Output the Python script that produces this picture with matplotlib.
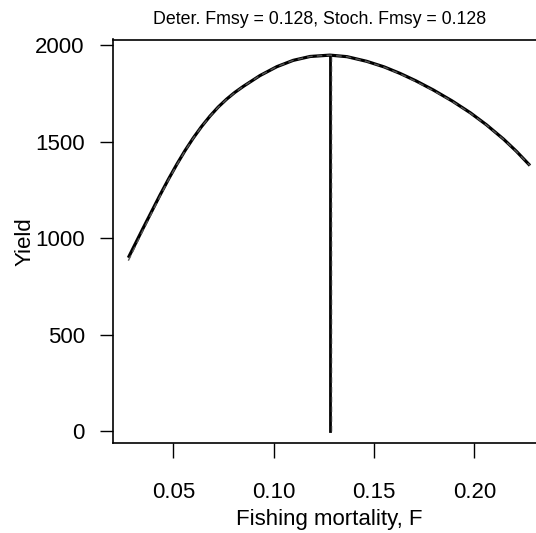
import matplotlib
matplotlib.use("Agg")
import matplotlib.pyplot as plt

plt.rcParams['font.family'] = ['Liberation Sans', 'DejaVu Sans']

# Deterministic equilibrium yield curve
F_vals = [0.0275, 0.035, 0.0433, 0.0475, 0.0516, 0.0558, 0.0599, 0.064,
          0.0682, 0.0723, 0.0765, 0.0806, 0.0848, 0.0931, 0.1015, 0.1097, 0.1181,
          0.128, 0.1365, 0.1463, 0.155, 0.163, 0.171, 0.1796, 0.189,
          0.198, 0.206, 0.2145, 0.221, 0.2277]
det_yield = [900, 1056, 1225, 1307, 1383, 1456, 1521, 1580,
             1634, 1681, 1722, 1757, 1788, 1844, 1890, 1923, 1943,
             1950, 1942, 1918, 1889, 1855, 1816, 1769, 1712,
             1651, 1589, 1515, 1451, 1378]
# Stochastic yield curve (nearly identical)
stoch_yield = [885, 1046, 1219, 1303, 1380, 1454, 1520, 1579,
               1633, 1680, 1721, 1756, 1788, 1844, 1890, 1923, 1943,
               1950, 1942, 1917, 1888, 1853, 1813, 1766, 1710,
               1649, 1588, 1514, 1450, 1378]

det_fmsy = 0.128
stoch_fmsy = 0.128
det_msy = 1950
stoch_msy = 1950

x_ticks = [0.05, 0.10, 0.15, 0.20]
x_ticklabels = ["0.05", "0.10", "0.15", "0.20"]
y_ticks = [0, 500, 1000, 1500, 2000]
y_ticklabels = ["0", "500", "1000", "1500", "2000"]

W, H = 536, 533
fig = plt.figure(figsize=(W / 100, H / 100), dpi=100)
left, right, top, bottom = 113.3, 544.6, 39.5, 443.0
ax = fig.add_axes([left / W, 1 - bottom / H, (right - left) / W, (bottom - top) / H])

ax.plot(F_vals, det_yield, color='black', lw=2.3, solid_capstyle='butt',
        solid_joinstyle='round', zorder=3)
ax.plot(F_vals, stoch_yield, color='#555555', lw=1.0, ls=(0, (4, 3)), zorder=4)
ax.plot([det_fmsy, det_fmsy], [0, det_msy], color='black', lw=2.0, zorder=3)
ax.plot([stoch_fmsy + 0.0003, stoch_fmsy + 0.0003], [0, stoch_msy], color='#333333',
        lw=1.0, ls=(0, (4, 3)), zorder=4)

ax.set_xlim(0.02, 0.235)
ax.set_ylim(-60, 2031)

ax.set_xticks(x_ticks)
ax.set_xticklabels(x_ticklabels)
ax.set_yticks(y_ticks)
ax.set_yticklabels(y_ticklabels)
ax.tick_params(axis='x', direction='out', length=11, width=1, pad=17, labelsize=16)
ax.tick_params(axis='y', direction='out', length=9.5, width=1, pad=11, labelsize=16)

for s in ax.spines.values():
    s.set_linewidth(1.2)

ax.set_xlabel("Fishing mortality, F", fontsize=16, labelpad=4.5)
ax.set_ylabel("Yield", fontsize=16, labelpad=0)
fig.text(320 / W, 1 - 19 / H, f"Deter. Fmsy = {det_fmsy:.3f}, Stoch. Fmsy = {stoch_fmsy:.3f}",
         ha='center', va='center', fontsize=12.8)

fig.savefig("out.png", dpi=100)
